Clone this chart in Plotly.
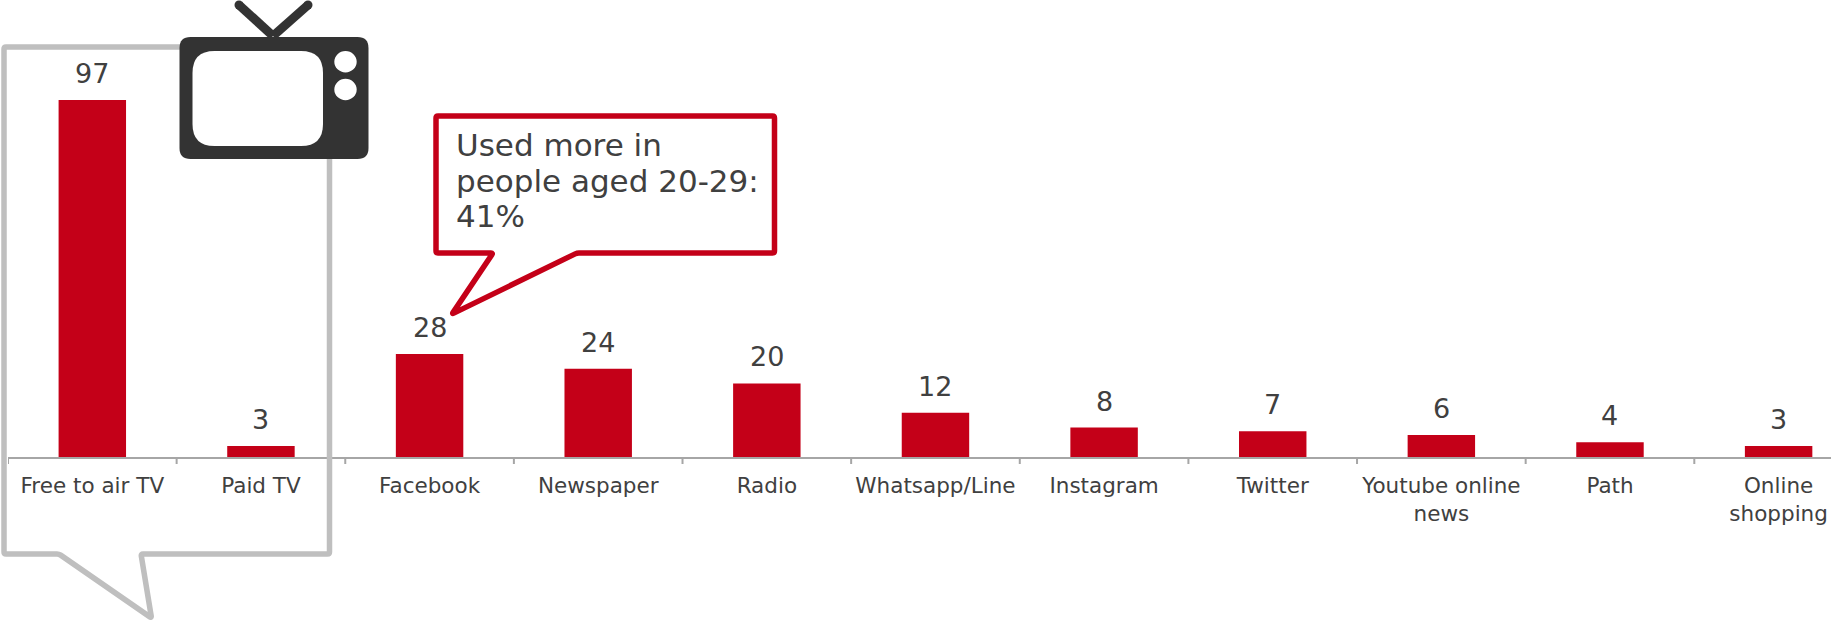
import math
import plotly.graph_objects as go

# Share of respondents per media channel
categories = ["Free to air TV", "Paid TV", "Facebook", "Newspaper", "Radio", "Whatsapp/Line",
              "Instagram", "Twitter", "Youtube online<br>news", "Path", "Online<br>shopping"]
values = [97, 3, 28, 24, 20, 12, 8, 7, 6, 4, 3]
note_lines = ["Used more in", "people aged 20-29:", "41%"]

WIDTH, HEIGHT = 1831, 620
LEFT, BASE = 8, 457          # plot origin in page pixels
STEP = 168.63                # category width in pixels
UNIT = 3.68                  # pixels per percentage point
RED, GREY, DARK, AXIS = "#C40018", "#BFBFBF", "#333333", "#A6A6A6"
TEXT = "#404040"
FONT = "DejaVu Sans"


def px(x):
    return (x - LEFT) / (WIDTH - LEFT)


def py(y):
    return (BASE - y) / BASE


def pt(x, y):
    return f"{px(x):.5f},{py(y):.5f}"


def bubble(points, r=2):
    """Closed polygon with softly rounded vertices, in page pixels."""
    parts = []
    n = len(points)
    for i, (x, y) in enumerate(points):
        ax, ay = points[i - 1]
        bx, by = points[(i + 1) % n]
        la, lb = math.hypot(ax - x, ay - y), math.hypot(bx - x, by - y)
        start = (x + (ax - x) * r / la, y + (ay - y) * r / la)
        end = (x + (bx - x) * r / lb, y + (by - y) * r / lb)
        parts.append(("M " if i == 0 else "L ") + pt(*start) + f" Q {pt(x, y)} {pt(*end)}")
    return " ".join(parts) + " Z"


def rounded(x0, y0, x1, y1, r):
    """Rounded rectangle path in page pixels."""
    p = pt
    return (f"M {p(x0 + r, y0)} L {p(x1 - r, y0)} Q {p(x1, y0)} {p(x1, y0 + r)} "
            f"L {p(x1, y1 - r)} Q {p(x1, y1)} {p(x1 - r, y1)} "
            f"L {p(x0 + r, y1)} Q {p(x0, y1)} {p(x0, y1 - r)} "
            f"L {p(x0, y0 + r)} Q {p(x0, y0)} {p(x0 + r, y0)} Z")


def ellipse(cx, cy, rx, ry, color):
    return dict(type="circle", xref="paper", yref="paper", x0=px(cx - rx), x1=px(cx + rx),
                y0=py(cy - ry), y1=py(cy + ry), fillcolor=color, line_width=0, layer="above")


def outline(d, color, width=5.5):
    return dict(type="path", xref="paper", yref="paper", path=d, fillcolor="rgba(0,0,0,0)",
                line=dict(color=color, width=width), layer="above")


fig = go.Figure(go.Bar(x=list(range(len(values))), y=values, width=0.4,
                       marker=dict(color=RED, line_width=0), hoverinfo="skip"))

shapes = [
    # Speech bubble around the TV channels
    outline(bubble([(4, 47), (329.5, 47), (329.5, 554), (141, 554), (151.5, 618), (59, 554), (4, 554)]), GREY),
    # Speech bubble for the Facebook note
    outline(bubble([(436, 116), (774.5, 116), (774.5, 253), (577, 253), (452, 314), (493, 253), (436, 253)]), RED),
    # Television icon: antenna, cabinet, screen, knobs
    dict(type="line", xref="paper", yref="paper", x0=px(273), y0=py(36), x1=px(239), y1=py(5),
         line=dict(color=DARK, width=9), layer="above"),
    dict(type="line", xref="paper", yref="paper", x0=px(273), y0=py(36), x1=px(308), y1=py(5),
         line=dict(color=DARK, width=9), layer="above"),
    ellipse(239, 5, 4.5, 4.5, DARK),
    ellipse(308, 5, 4.5, 4.5, DARK),
    dict(type="path", xref="paper", yref="paper", path=rounded(179.5, 37, 368.5, 159, 11),
         fillcolor=DARK, line_width=0, layer="above"),
    dict(type="path", xref="paper", yref="paper", path=rounded(192.5, 51, 323, 146, 22),
         fillcolor="#FFFFFF", line_width=0, layer="above"),
    ellipse(345.5, 61.7, 11.2, 10.7, "#FFFFFF"),
    ellipse(345.5, 89.5, 11.2, 10.7, "#FFFFFF"),
]

annotations = [
    dict(x=i, y=v, xref="x", yref="y", text=str(v), showarrow=False, yanchor="bottom", yshift=9,
         font=dict(family=FONT, size=27, color=TEXT))
    for i, v in enumerate(values)
]
# Note text, one line per annotation to hold the tight leading
for line, centre in zip(note_lines, (145, 181, 216)):
    annotations.append(
        dict(x=px(454), y=py(centre), xref="paper", yref="paper", xanchor="left", yanchor="middle",
             showarrow=False, text=line, font=dict(family=FONT, size=31, color=TEXT))
    )

fig.update_layout(
    width=WIDTH, height=HEIGHT,
    margin=dict(l=LEFT, r=0, t=0, b=HEIGHT - BASE, pad=0, autoexpand=False),
    paper_bgcolor="white", plot_bgcolor="white", showlegend=False,
    shapes=shapes, annotations=annotations,
    xaxis=dict(type="linear", range=[-0.5, -0.5 + (WIDTH - LEFT) / STEP],
               tickmode="array", tickvals=list(range(len(values))), ticktext=categories,
               ticks="", showgrid=False, zeroline=False, showline=True, linecolor=AXIS, linewidth=2,
               tickfont=dict(family=FONT, size=21.5, color=TEXT), ticklabelstandoff=8),
    yaxis=dict(range=[0, BASE / UNIT], visible=False),
)

# Tick marks sit on the boundaries between categories
for i in range(len(values)):
    fig.add_shape(type="line", xref="x", yref="paper", x0=i - 0.5, x1=i - 0.5, y0=0, y1=py(464),
                  line=dict(color=AXIS, width=2), layer="below")

fig.write_html("out.html")
